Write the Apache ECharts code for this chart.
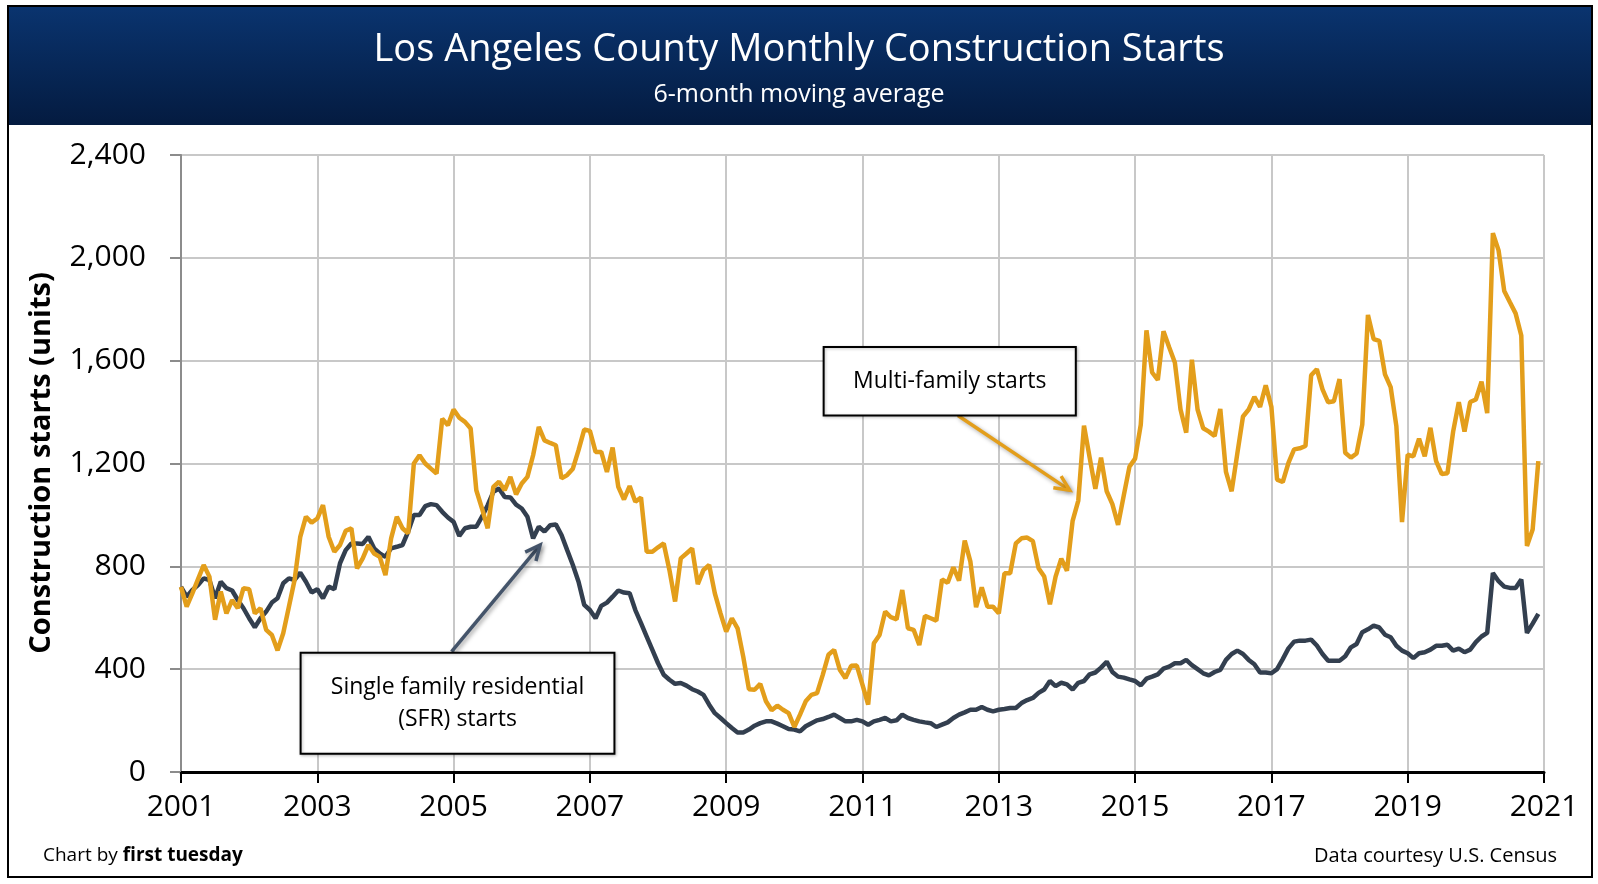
<!DOCTYPE html>
<html>
<head>
<meta charset="utf-8">
<script src="https://cdn.jsdelivr.net/npm/echarts@6/dist/echarts.min.js"></script>
<style>
html,body{margin:0;padding:0;background:#fff;}
#chart{width:1598px;height:884px;}
</style>
</head>
<body>
<div id="chart"></div>
<script>
// ---- Data (monthly, Jan 2001 .. Dec 2020, 6-month moving average) ----
const startYear = 2001;
const multiFamily = [
  720,643,695,750,805,760,592,702,617,669,637,715,
  711,617,637,553,533,473,540,643,747,915,993,970,
  986,1038,915,857,883,938,948,792,831,883,850,837,
  766,909,993,948,928,1200,1232,1200,1180,1161,1374,1349,
  1410,1378,1362,1336,1096,1025,948,1109,1129,1096,1148,1080,
  1122,1148,1232,1342,1290,1280,1271,1142,1155,1180,1252,1332,
  1327,1245,1245,1167,1262,1109,1060,1112,1051,1068,857,857,
  874,889,786,663,831,850,870,731,786,805,695,617,
  546,598,559,449,322,320,343,275,240,258,242,229,
  175,223,275,300,307,378,456,475,398,365,413,414,
  339,262,501,533,624,602,594,708,559,553,494,607,
  598,589,749,736,796,744,900,818,641,718,643,643,
  617,773,773,889,909,912,898,793,760,652,760,830,
  783,977,1056,1347,1223,1101,1223,1092,1042,961,1075,1187,
  1219,1351,1718,1554,1525,1714,1652,1593,1410,1320,1604,1410,
  1337,1324,1307,1412,1167,1092,1239,1383,1410,1459,1420,1504,
  1420,1137,1128,1202,1255,1259,1268,1543,1567,1488,1438,1442,
  1528,1242,1223,1239,1351,1778,1684,1677,1547,1497,1346,972,
  1234,1228,1296,1228,1339,1209,1159,1162,1324,1439,1324,1439,
  1449,1518,1396,2096,2029,1871,1827,1784,1698,879,943,1209
];
const singleFamily = [
  720,682,708,727,753,747,676,740,715,706,669,637,
  598,563,598,624,659,676,734,753,747,775,740,698,
  711,676,721,711,812,863,889,889,887,915,870,850,
  837,870,876,883,935,1000,1000,1034,1042,1038,1012,990,
  973,918,948,954,954,993,1038,1090,1103,1070,1068,1040,
  1025,993,909,954,935,960,963,922,863,805,740,650,
  630,598,646,659,682,706,698,695,630,579,527,475,
  423,378,359,343,346,336,322,313,300,262,229,210,
  190,171,154,154,165,180,190,197,197,188,178,167,
  165,158,178,190,201,206,214,223,210,197,197,203,
  197,184,197,203,210,197,201,223,210,203,197,193,
  190,175,184,193,210,223,232,242,242,253,242,236,
  242,245,249,249,268,280,288,308,321,354,334,347,
  341,321,347,354,380,387,406,429,389,371,367,360,
  354,337,363,371,380,402,410,423,423,436,416,400,
  384,376,389,397,436,459,472,459,436,419,387,387,
  384,400,439,481,507,511,511,515,492,459,433,433,
  433,450,485,498,544,555,569,562,534,524,491,472,
  462,443,462,466,476,491,491,495,472,480,466,476,
  505,527,541,774,742,721,716,716,749,541,577,615
];
const xMin = 2001, xMax = 2021, xStep = 2;
const yMin = 0, yMax = 2400, yStep = 400;

// Annotations (data-space anchors)
const mfBox = {x1: 2010.43, y1: 1653, x2: 2014.13, y2: 1387, lines: ['Multi-family starts']};
const mfArrow = {from: [2012.40, 1387], to: [2014.04, 1096]};
const sfBox = {x1: 2002.755, y1: 464, x2: 2007.36, y2: 71, lines: ['Single family residential', '(SFR) starts']};
const sfArrow = {from: [2004.97, 468], to: [2006.27, 883]};

const FONT = "'Open Sans', 'Noto Sans', 'DejaVu Sans', sans-serif";
const ORANGE = '#E39E1B';
const SLATE = '#333F4F';

const toXY = arr => arr.map((v, i) => [startYear + i / 12, v]);

const chart = echarts.init(document.getElementById('chart'), null, {renderer: 'canvas'});

const option = {
  animation: false,
  backgroundColor: '#ffffff',
  title: [
    {text: 'Los Angeles County Monthly Construction Starts', left: 'center', top: 26,
     textStyle: {color: '#ffffff', fontSize: 38, fontWeight: 'normal', fontFamily: FONT}},
    {text: '6-month moving average', left: 'center', top: 77,
     textStyle: {color: '#ffffff', fontSize: 25, fontWeight: 'normal', fontFamily: FONT}}
  ],
  grid: {left: 181, right: 54, top: 155, bottom: 112, containLabel: false},
  xAxis: {
    type: 'value', min: xMin, max: xMax, interval: xStep,
    axisLine: {lineStyle: {color: '#000', width: 3}},
    axisTick: {show: true, length: 11, lineStyle: {color: '#000', width: 2}},
    axisLabel: {color: '#000', fontSize: 30, fontFamily: FONT, margin: 20, formatter: v => String(v)},
    splitLine: {show: true, lineStyle: {color: '#c8c8c8', width: 2}}
  },
  yAxis: {
    type: 'value', min: yMin, max: yMax, interval: yStep,
    axisLine: {show: true, lineStyle: {color: '#8c8c8c', width: 2}},
    axisTick: {show: true, length: 11, lineStyle: {color: '#8c8c8c', width: 2}},
    axisLabel: {color: '#000', fontSize: 30, fontFamily: FONT, margin: 35,
                formatter: v => Number(v).toLocaleString('en-US')},
    splitLine: {show: true, lineStyle: {color: '#c8c8c8', width: 2}}
  },
  series: [
    {name: 'Single family residential (SFR) starts', type: 'line', data: toXY(singleFamily),
     showSymbol: false, lineStyle: {color: SLATE, width: 4.5}, itemStyle: {color: SLATE}, z: 3},
    {name: 'Multi-family starts', type: 'line', data: toXY(multiFamily),
     showSymbol: false, lineStyle: {color: ORANGE, width: 4.5}, itemStyle: {color: ORANGE}, z: 4}
  ]
};
chart.setOption(option);

function px(p) { return chart.convertToPixel({gridIndex: 0}, p); }

function arrowGraphics(a, color) {
  const s = px(a.from), t = px(a.to);
  const dx = t[0] - s[0], dy = t[1] - s[1];
  const len = Math.sqrt(dx * dx + dy * dy);
  const ux = dx / len, uy = dy / len, nx = -uy, ny = ux;
  const L = 15, W = 7;
  const shadow = {shadowBlur: 4, shadowColor: 'rgba(0,0,0,0.35)', shadowOffsetX: 2, shadowOffsetY: 2};
  return [
    {type: 'line', z: 100, shape: {x1: s[0], y1: s[1], x2: t[0] - ux * 2, y2: t[1] - uy * 2},
     style: Object.assign({stroke: color, lineWidth: 3.5}, shadow)},
    {type: 'polyline', z: 100, shape: {points: [
        [t[0] - ux * L + nx * W, t[1] - uy * L + ny * W], [t[0], t[1]],
        [t[0] - ux * L - nx * W, t[1] - uy * L - ny * W]]},
     style: Object.assign({stroke: color, lineWidth: 3.5, fill: null}, shadow)}
  ];
}

function boxGraphics(b) {
  const p1 = px([b.x1, b.y1]), p2 = px([b.x2, b.y2]);
  const x = Math.min(p1[0], p2[0]), y = Math.min(p1[1], p2[1]);
  const w = Math.abs(p2[0] - p1[0]), h = Math.abs(p2[1] - p1[1]);
  const out = [{type: 'rect', z: 101, shape: {x: x, y: y, width: w, height: h},
                style: {fill: '#fff', stroke: '#000', lineWidth: 2,
                        shadowBlur: 3, shadowColor: 'rgba(0,0,0,0.25)', shadowOffsetX: 1, shadowOffsetY: 1}}];
  const lh = 32, n = b.lines.length;
  b.lines.forEach((t, i) => {
    out.push({type: 'text', z: 102, x: x + w / 2, y: y + h / 2 + (i - (n - 1) / 2) * lh,
              style: {text: t, fill: '#000', fontSize: 23, fontFamily: FONT, align: 'center', verticalAlign: 'middle'}});
  });
  return out;
}

const graphics = [
  {type: 'rect', z: -10, shape: {x: 8, y: 6, width: 1584, height: 119},
   style: {fill: new echarts.graphic.LinearGradient(0, 0, 0, 1, [
     {offset: 0, color: '#0A346F'}, {offset: 1, color: '#041B40'}])}},
  {type: 'rect', z: 200, shape: {x: 8, y: 6, width: 1584, height: 871},
   style: {fill: null, stroke: '#000', lineWidth: 2}},
  {type: 'text', z: 50, x: 42, y: 463, rotation: Math.PI / 2,
   style: {text: 'Construction starts (units)', fill: '#000', fontSize: 29, fontWeight: 'bold',
           fontFamily: FONT, align: 'center', verticalAlign: 'middle'}},
  {type: 'text', z: 50, x: 43, y: 856,
   style: {text: '{a|Chart by }{b|first tuesday}', verticalAlign: 'middle', align: 'left',
           rich: {a: {fontSize: 19, fontFamily: FONT, color: '#000'},
                  b: {fontSize: 19, fontFamily: FONT, fontWeight: 'bold', color: '#000'}}}},
  {type: 'text', z: 50, x: 1557, y: 856,
   style: {text: 'Data courtesy U.S. Census', fill: '#000', fontSize: 20, fontFamily: FONT,
           align: 'right', verticalAlign: 'middle'}}
]
  .concat(arrowGraphics(mfArrow, ORANGE))
  .concat(arrowGraphics(sfArrow, '#44546A'))
  .concat(boxGraphics(mfBox))
  .concat(boxGraphics(sfBox));

chart.setOption({graphic: graphics});
</script>
</body>
</html>
